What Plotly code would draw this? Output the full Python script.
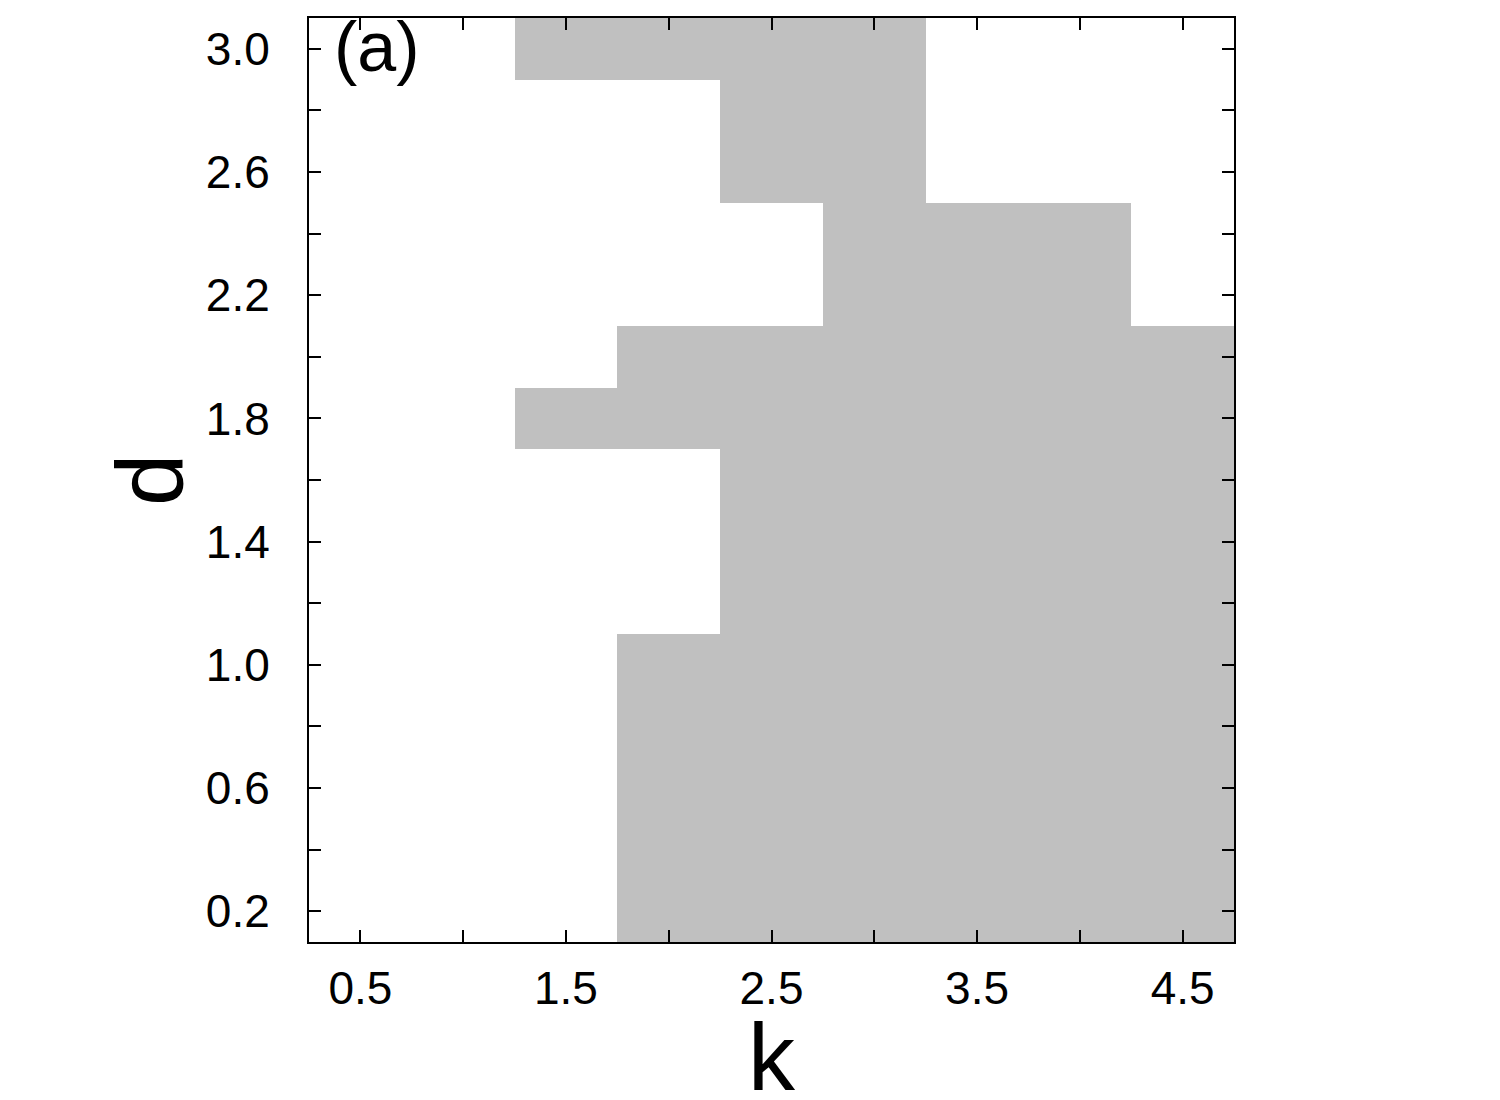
import plotly.graph_objects as go

# Data
k_values = [0.5, 1.0, 1.5, 2.0, 2.5, 3.0, 3.5, 4.0, 4.5]
d_values = [0.2, 0.4, 0.6, 0.8, 1.0, 1.2, 1.4, 1.6, 1.8, 2.0, 2.2, 2.4, 2.6, 2.8, 3.0]
# 1 = shaded (gray) region, 0 = white; one row per d value (bottom to top)
region = [
    [0, 0, 0, 1, 1, 1, 1, 1, 1],  # 0.2
    [0, 0, 0, 1, 1, 1, 1, 1, 1],  # 0.4
    [0, 0, 0, 1, 1, 1, 1, 1, 1],  # 0.6
    [0, 0, 0, 1, 1, 1, 1, 1, 1],  # 0.8
    [0, 0, 0, 1, 1, 1, 1, 1, 1],  # 1.0
    [0, 0, 0, 0, 1, 1, 1, 1, 1],  # 1.2
    [0, 0, 0, 0, 1, 1, 1, 1, 1],  # 1.4
    [0, 0, 0, 0, 1, 1, 1, 1, 1],  # 1.6
    [0, 0, 1, 1, 1, 1, 1, 1, 1],  # 1.8
    [0, 0, 0, 1, 1, 1, 1, 1, 1],  # 2.0
    [0, 0, 0, 0, 0, 1, 1, 1, 0],  # 2.2
    [0, 0, 0, 0, 0, 1, 1, 1, 0],  # 2.4
    [0, 0, 0, 0, 1, 1, 0, 0, 0],  # 2.6
    [0, 0, 0, 0, 1, 1, 0, 0, 0],  # 2.8
    [0, 0, 1, 1, 1, 1, 0, 0, 0],  # 3.0
]
x_tickvals = [0.5, 1.0, 1.5, 2.0, 2.5, 3.0, 3.5, 4.0, 4.5]
x_ticktext = ["0.5", "", "1.5", "", "2.5", "", "3.5", "", "4.5"]
y_tickvals = [0.2, 0.4, 0.6, 0.8, 1.0, 1.2, 1.4, 1.6, 1.8, 2.0, 2.2, 2.4, 2.6, 2.8, 3.0]
y_ticktext = ["0.2", "", "0.6", "", "1.0", "", "1.4", "", "1.8", "", "2.2", "", "2.6", "", "3.0"]

FONT = "Liberation Sans, Arial, Helvetica, sans-serif"

fig = go.Figure()
fig.add_trace(go.Heatmap(
    x=k_values, y=d_values, z=region,
    colorscale=[[0, "#ffffff"], [1, "#c0c0c0"]],
    zmin=0, zmax=1, showscale=False, hoverinfo="skip",
))

axis_common = dict(
    showline=True, linecolor="black", linewidth=2, mirror="ticks",
    ticks="inside", ticklen=12, tickwidth=2, tickcolor="black",
    showgrid=False, zeroline=False, automargin=False,
    tickfont=dict(family=FONT, size=46, color="black"),
)

fig.update_xaxes(
    range=[0.25, 4.75], tickmode="array", tickvals=x_tickvals, ticktext=x_ticktext,
    ticklabelstandoff=5,
    **axis_common,
)
fig.update_yaxes(
    range=[0.1, 3.1], tickmode="array", tickvals=y_tickvals, ticktext=y_ticktext,
    ticklabelstandoff=28,
    **axis_common,
)

fig.add_annotation(
    text="(a)", xref="paper", yref="paper", x=0.03, y=1.0,
    xanchor="left", yanchor="top", showarrow=False, xshift=-5, yshift=12,
    font=dict(family=FONT, size=70, color="black"),
)
fig.add_annotation(
    text="k", xref="paper", yref="paper", x=0.5, y=-0.125,
    xanchor="center", yanchor="middle", showarrow=False,
    font=dict(family=FONT, size=94, color="black"),
)
fig.add_annotation(
    text="d", xref="paper", yref="paper", x=-0.172, y=0.5, textangle=-90,
    xanchor="center", yanchor="middle", showarrow=False,
    font=dict(family=FONT, size=94, color="black"),
)

# page body has an ~8px default margin; compensate so the plot area lands at
# left 309, right 1234, top 18, bottom 942 in the 1500x1100 window
fig.update_layout(
    width=1500, height=1100,
    margin=dict(l=301, r=274, t=10, b=166, pad=0),
    plot_bgcolor="white", paper_bgcolor="white",
    showlegend=False,
)

fig.write_html("out.html")
